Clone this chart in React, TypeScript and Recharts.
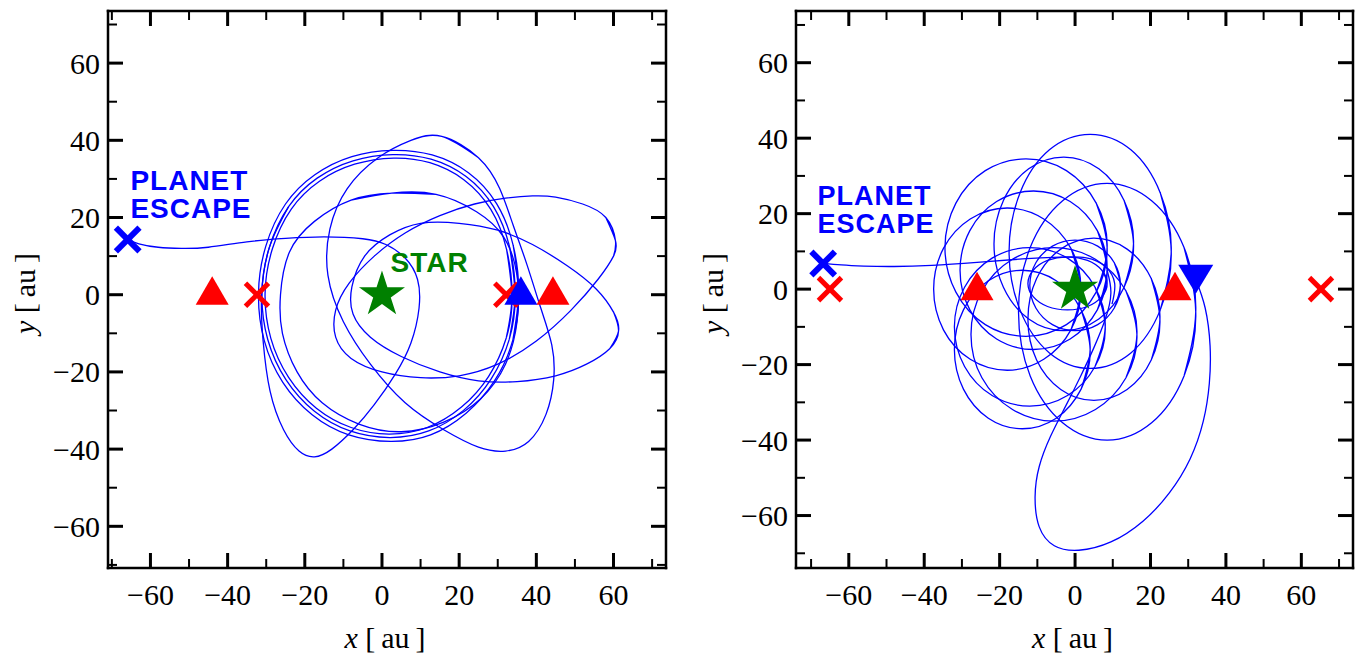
import React from 'react';
import { ComposedChart, Line, Scatter, XAxis, YAxis } from 'recharts';

// axes: both panels share the tick set, each has its own window (au)
const AXIS_TICKS = [-70, -60, -50, -40, -30, -20, -10, 0, 10, 20, 30, 40, 50, 60, 70];
const LEFT_X_DOMAIN = [-71, 73.6];
const LEFT_Y_DOMAIN = [-70.8, 73.5];
const RIGHT_X_DOMAIN = [-74, 73.7];
const RIGHT_Y_DOMAIN = [-73.9, 73.7];

// ---- left panel: planet orbit (x, y in au) ----
const L_RING_1 = [[34.5, -0.2], [33.1, 12.2], [28.9, 22.8], [21.8, 30.6], [12.7, 35.1], [2.8, 36.3], [-7.5, 34.7], [-16.8, 30.2], [-24.2, 22.8], [-29.2, 12.2], [-31.1, 0.2], [-29.6, -11.6], [-24.9, -22], [-17.5, -30.2], [-8.3, -35.3], [2, -37], [12.1, -35.3], [21.2, -29.9], [28.3, -21.8], [33, -11.5]];
const L_RING_2 = [[35.4, 0.4], [34, 12.8], [29.7, 23.6], [22.4, 31.6], [13, 36.2], [2.8, 37.4], [-7.8, 35.8], [-17.4, 31.1], [-25, 23.5], [-30.1, 12.6], [-32, 0.4], [-30.5, -11.9], [-25.7, -22.7], [-18.1, -31.1], [-8.6, -36.3], [2.3, -38], [12.6, -36.3], [21.8, -30.7], [29.1, -22.4], [33.9, -11.8]];
const L_RING_3 = [[33.7, -0.6], [32.3, 11.7], [28.2, 22.1], [21.2, 29.8], [12.4, 34.2], [3, 35.4], [-7.1, 33.8], [-16.2, 29.4], [-23.5, 22.2], [-28.4, 11.9], [-30.3, 0.3], [-28.8, -11.3], [-24.2, -21.4], [-17, -29.4], [-8, -34.4], [1.8, -36.1], [11.7, -34.4], [20.6, -29.1], [27.6, -21.2], [32.2, -11.2]];
const L_TALL = [[15.5, 41], [25, 35.5], [30.5, 27.5], [34, 18], [37.5, 8], [41, -3], [44, -13], [44.5, -22], [42.5, -31], [38, -38], [32, -40.5], [25, -39.5], [16, -35], [6, -28], [-3, -18], [-10, -7], [-14, 5], [-13.5, 17], [-9, 27.5], [-1, 35.5], [7.5, 40]];
const L_INNER = [[2.5, 26.3], [14, 26], [24.5, 21.5], [31.5, 15], [35, 5], [35, -7], [32, -18], [25.5, -27], [16, -33], [5, -35.5], [-6, -33.5], [-15.5, -28], [-22, -20], [-25.8, -10], [-26.3, 0], [-24, 11], [-17.5, 19], [-8, 24.5]];
const L_WIDE_UP = [[60.5, 14], [58, 20], [52, 23.5], [45, 25.3], [39, 25.6], [32, 25], [24, 23.5], [15, 20.5], [6, 16], [-2, 10], [-8.5, 3], [-12, -4], [-12, -11], [-8, -16.5], [0, -20], [10, -21.5], [20, -21], [30, -18], [40, -12], [49, -4], [56, 4], [60, 10]];
const L_WIDE_DOWN = [[61.3, -9.4], [60, -4.5], [55.5, 1.5], [48, 7.5], [39, 13], [30, 16.7], [20, 18.5], [10, 18.5], [2, 15.5], [-4.5, 10], [-7.8, 2], [-7.5, -5], [-3, -11], [5, -16], [15, -20], [25, -22.3], [35, -22.5], [45, -21], [53, -18], [59, -14]];
const L_ESCAPE = [[-24.2, 22.8], [-29.2, 12.2], [-31.2, 0], [-30.8, -12], [-29, -25], [-25.5, -35], [-21.5, -40.5], [-17.5, -42], [-13, -40], [-7.5, -35], [-2, -28.5], [3.5, -20.5], [7.5, -12.5], [9.6, -3.5], [9.2, 4], [6, 9.5], [1, 13], [-5, 14.5], [-15, 15], [-25, 14.6], [-35, 13.7], [-45, 12.3], [-52, 12], [-58, 12.3], [-63, 13.2], [-65.9, 14.3]];

const L_STAR = [[0, 0]];
const L_RED_TRI = [[-44, 1.1], [44.3, 1.1]];
const L_RED_X = [[-32.4, 0], [32.2, 0]];
const L_START = [[36, 1.1]];
const L_END = [[-65.9, 14.3]];
const L_NOTE_ESCAPE = [[-65.2, 27.2]];
const L_NOTE_STAR = [[2.2, 6]];

// ---- right panel ----
const R_RING_1 = [[25.5, 10], [22.6, 25.5], [14.8, 36.9], [4, 41], [-6.8, 36.9], [-14.6, 25.5], [-17.5, 10], [-14.6, -5.5], [-6.8, -16.9], [4, -21], [14.8, -16.9], [22.6, -5.5]];
const R_RING_2 = [[8.5, 11], [5.6, 22.8], [-2.3, 31.4], [-13, 34.5], [-23.8, 31.4], [-31.6, 22.8], [-34.5, 11], [-31.6, -0.8], [-23.8, -9.4], [-13, -12.5], [-2.3, -9.4], [5.6, -0.8]];
const R_RING_3 = [[15.5, 12], [13, 23.5], [6.3, 31.9], [-3, 35], [-12.3, 31.9], [-19, 23.5], [-21.5, 12], [-19, 0.5], [-12.3, -7.9], [-3, -11], [6.3, -7.9], [13, 0.5]];
const R_RING_4 = [[32, -6], [28.9, 11], [20.3, 23.4], [8.5, 28], [-3.3, 23.4], [-11.9, 11], [-15, -6], [-11.9, -23], [-3.3, -35.4], [8.5, -40], [20.3, -35.4], [28.9, -23]];
const R_RING_5 = [[1.5, 0], [-1.1, 10.8], [-8.3, 18.6], [-18, 21.5], [-27.8, 18.6], [-34.9, 10.8], [-37.5, 0], [-34.9, -10.8], [-27.8, -18.6], [-18, -21.5], [-8.3, -18.6], [-1.1, -10.8]];
const R_RING_6 = [[4, -16], [1.6, -5.5], [-5, 2.2], [-14, 5], [-23, 2.2], [-29.6, -5.5], [-32, -16], [-29.6, -26.5], [-23, -34.2], [-14, -37], [-5, -34.2], [1.6, -26.5]];
const R_RING_7 = [[16.4, -12], [13.5, -0.5], [5.4, 7.9], [-5.6, 11], [-16.6, 7.9], [-24.7, -0.5], [-27.6, -12], [-24.7, -23.5], [-16.6, -31.9], [-5.6, -35], [5.4, -31.9], [13.5, -23.5]];
const R_RING_8 = [[22.5, -8], [20.2, 2.8], [13.8, 10.6], [5, 13.5], [-3.8, 10.6], [-10.2, 2.8], [-12.5, -8], [-10.2, -18.8], [-3.8, -26.6], [5, -29.5], [13.8, -26.6], [20.2, -18.8]];
const R_RING_9 = [[8.5, 1.5], [7.1, 5], [3.3, 7.6], [-2, 8.5], [-7.3, 7.6], [-11.1, 5], [-12.5, 1.5], [-11.1, -2], [-7.3, -4.6], [-2, -5.5], [3.3, -4.6], [7.1, -2]];
const R_RING_10 = [[12, 1], [10.4, 7], [6, 11.4], [0, 13], [-6, 11.4], [-10.4, 7], [-12, 1], [-10.4, -5], [-6, -9.4], [0, -11], [6, -9.4], [10.4, -5]];
const R_RING_11 = [[8.5, 5], [5.9, 15.5], [-1.3, 23.2], [-11, 26], [-20.8, 23.2], [-27.9, 15.5], [-30.5, 5], [-27.9, -5.5], [-20.8, -13.2], [-11, -16], [-1.3, -13.2], [5.9, -5.5]];
const R_RING_12 = [[8, -10], [5.3, 0.5], [-2, 8.2], [-12, 11], [-22, 8.2], [-29.3, 0.5], [-32, -10], [-29.3, -20.5], [-22, -28.2], [-12, -31], [-2, -28.2], [5.3, -20.5]];
const R_PLUNGE = [[32, 2.6], [34.5, -5], [35.8, -15], [35.6, -25], [34, -35], [30.5, -45], [25, -54], [18, -61.5], [9.5, -67], [1, -69.2], [-5.5, -68], [-9.5, -63], [-10.6, -55], [-9.5, -47], [-6.5, -39], [-2.5, -31], [1.5, -23], [5, -15.5], [8, -8], [9.5, -1], [8.5, 5]];
const R_ESCAPE = [[9.8, -4], [10.5, 1.5], [8, 6], [3, 8.3], [-4, 8.5], [-14, 8], [-26, 7.1], [-38, 6.3], [-48, 6], [-56, 6.1], [-62, 6.4], [-66.8, 6.9]];

const R_STAR = [[0, 0]];
const R_RED_TRI = [[-26, 0.8], [26.5, 0.8]];
const R_RED_X = [[-65, 0], [65.2, 0]];
const R_START = [[32, 2.6]];
const R_END = [[-66.8, 6.8]];
const R_NOTE_ESCAPE = [[-68.3, 22.3]];

const BLUE = '#0000ff';
const RED = '#ff0000';
const GREEN = '#008000';
const SERIF = '"Liberation Serif", "Times New Roman", Times, serif';
const SANS = '"Liberation Sans", Arial, Helvetica, sans-serif';
const FRAME = { stroke: '#000', strokeWidth: 2.5, strokeLinecap: 'square' as const };

const toPts = (a: number[][]) => a.map(([x, y]) => ({ x, y }));
// repeat the seam points so the spline closes without a corner
const closed = (a: number[][]) => toPts([a[a.length - 1], ...a, a[0], a[1]]);

const fmt = (v: number) => (v < 0 ? '\u2212' + Math.abs(v) : String(v));
const isMajor = (v: number) => v % 20 === 0;
const tickLen = (v: number) => (isMajor(v) ? 15 : 9);
const tickW = (v: number) => (isMajor(v) ? 3 : 2);

const BottomTick = (p: any) => {
  const v = p.payload.value;
  return (
    <g>
      <line x1={p.x} x2={p.x} y1={p.y} y2={p.y - tickLen(v)} stroke="#000" strokeWidth={tickW(v)} />
      {isMajor(v) && (
        <text x={p.x} y={p.y + 37} textAnchor="middle" fontFamily={SERIF} fontSize={30} fill="#000">
          {fmt(v)}
        </text>
      )}
    </g>
  );
};

const TopTick = (p: any) => {
  const v = p.payload.value;
  return <line x1={p.x} x2={p.x} y1={p.y} y2={p.y + tickLen(v)} stroke="#000" strokeWidth={tickW(v)} />;
};

const LeftTick = (p: any) => {
  const v = p.payload.value;
  return (
    <g>
      <line x1={p.x} x2={p.x + tickLen(v)} y1={p.y} y2={p.y} stroke="#000" strokeWidth={tickW(v)} />
      {isMajor(v) && (
        <text x={p.x - 8} y={p.y + 10.5} textAnchor="end" fontFamily={SERIF} fontSize={30} fill="#000">
          {fmt(v)}
        </text>
      )}
    </g>
  );
};

const RightTick = (p: any) => {
  const v = p.payload.value;
  return <line x1={p.x} x2={p.x - tickLen(v)} y1={p.y} y2={p.y} stroke="#000" strokeWidth={tickW(v)} />;
};

const XTitle = (props: any) => {
  const vb = props.viewBox || {};
  return (
    <text x={vb.x + vb.width / 2 - 2} y={vb.y + 80} textAnchor="middle" fontFamily={SERIF} fontSize={30} fill="#000">
      <tspan fontStyle="italic">x</tspan>
      {' [\u2009au\u2009]'}
    </text>
  );
};

const YTitle = (props: any) => {
  const vb = props.viewBox || {};
  const cx = vb.x + vb.width - 73;
  const cy = vb.y + vb.height / 2 + 4;
  return (
    <text x={cx} y={cy} transform={`rotate(-90, ${cx}, ${cy})`} textAnchor="middle" fontFamily={SERIF} fontSize={30} fill="#000">
      <tspan fontStyle="italic">y</tspan>
      {' [\u2009au\u2009]'}
    </text>
  );
};

const triUp = (fill: string) => (p: any) => (
  <polygon points={`${p.cx},${p.cy - 14.3} ${p.cx - 16.5},${p.cy + 14.2} ${p.cx + 16.5},${p.cy + 14.2}`} fill={fill} />
);

const triDown = (fill: string) => (p: any) => (
  <polygon points={`${p.cx - 17.5},${p.cy - 14.5} ${p.cx + 17.5},${p.cy - 14.5} ${p.cx},${p.cy + 14.5}`} fill={fill} />
);

const cross = (color: string, arm: number, width: number) => (p: any) => (
  <g stroke={color} strokeWidth={width}>
    <line x1={p.cx - arm} y1={p.cy - arm} x2={p.cx + arm} y2={p.cy + arm} />
    <line x1={p.cx - arm} y1={p.cy + arm} x2={p.cx + arm} y2={p.cy - arm} />
  </g>
);

const StarShape = (p: any) => {
  const outer = 24.2;
  const inner = outer * 0.382;
  const corners: string[] = [];
  for (let i = 0; i < 10; i++) {
    const a = -Math.PI / 2 + (i * Math.PI) / 5;
    const r = i % 2 === 0 ? outer : inner;
    corners.push(`${p.cx + r * Math.cos(a)},${p.cy + r * Math.sin(a)}`);
  }
  return <polygon points={corners.join(' ')} fill={GREEN} />;
};

// one <text> per line so the two words of a note stay separate
const note = (lines: string[], color: string, size: number, lineGap: number) => (p: any) => (
  <g fill={color} fontFamily={SANS} fontWeight="bold" fontSize={size} letterSpacing={1}>
    {lines.map((t, i) => (
      <text key={t} x={p.cx} y={p.cy + i * lineGap}>
        {t}
      </text>
    ))}
  </g>
);

interface PanelProps {
  width: number;
  margin: { top: number; right: number; bottom: number; left: number };
  xDomain: number[];
  yDomain: number[];
  rings: number[][][];
  paths: number[][][];
  marks: { data: number[][]; shape: (p: any) => React.ReactElement }[];
}

function Panel({ width, margin, xDomain, yDomain, rings, paths, marks }: PanelProps) {
  return (
    <ComposedChart width={width} height={658} margin={margin}>
      <XAxis xAxisId="b" type="number" dataKey="x" orientation="bottom" domain={xDomain} allowDataOverflow
        ticks={AXIS_TICKS} interval={0} height={1} tickSize={0} tickMargin={0} tickLine={false}
        axisLine={FRAME} tick={BottomTick} label={XTitle} />
      <XAxis xAxisId="t" type="number" dataKey="x" orientation="top" domain={xDomain} allowDataOverflow
        ticks={AXIS_TICKS} interval={0} height={1} tickSize={0} tickMargin={0} tickLine={false}
        axisLine={FRAME} tick={TopTick} />
      <YAxis yAxisId="l" type="number" dataKey="y" orientation="left" domain={yDomain} allowDataOverflow
        ticks={AXIS_TICKS} interval={0} width={1} tickSize={0} tickMargin={0} tickLine={false}
        axisLine={FRAME} tick={LeftTick} label={YTitle} />
      <YAxis yAxisId="r" type="number" dataKey="y" orientation="right" domain={yDomain} allowDataOverflow
        ticks={AXIS_TICKS} interval={0} width={1} tickSize={0} tickMargin={0} tickLine={false}
        axisLine={FRAME} tick={RightTick} />
      {rings.map((r, i) => (
        <Line key={`ring${i}`} xAxisId="b" yAxisId="l" data={closed(r)} dataKey="y" type="natural"
          stroke={BLUE} strokeWidth={1.3} dot={false} activeDot={false} isAnimationActive={false} />
      ))}
      {paths.map((r, i) => (
        <Line key={`path${i}`} xAxisId="b" yAxisId="l" data={toPts(r)} dataKey="y" type="natural"
          stroke={BLUE} strokeWidth={1.3} dot={false} activeDot={false} isAnimationActive={false} />
      ))}
      {marks.map((m, i) => (
        <Scatter key={`mark${i}`} xAxisId="t" yAxisId="r" data={toPts(m.data)} dataKey="y"
          shape={m.shape} isAnimationActive={false} />
      ))}
    </ComposedChart>
  );
}

export default function App() {
  return (
    <div style={{ position: 'absolute', left: 0, top: 0, width: 1362, height: 658, background: '#fff' }}>
      <div style={{ position: 'absolute', left: 0, top: 0 }}>
        <Panel
          width={680}
          margin={{ top: 10, right: 13, bottom: 89, left: 107 }}
          xDomain={LEFT_X_DOMAIN}
          yDomain={LEFT_Y_DOMAIN}
          rings={[L_RING_1, L_RING_2, L_RING_3, L_TALL, L_INNER, L_WIDE_UP, L_WIDE_DOWN]}
          paths={[L_ESCAPE]}
          marks={[
            { data: L_RED_TRI, shape: triUp(RED) },
            { data: L_RED_X, shape: cross(RED, 11.5, 5) },
            { data: L_START, shape: triUp(BLUE) },
            { data: L_END, shape: cross(BLUE, 11.8, 6) },
            { data: L_STAR, shape: StarShape },
            { data: L_NOTE_ESCAPE, shape: note(['PLANET', 'ESCAPE'], BLUE, 28, 28) },
            { data: L_NOTE_STAR, shape: note(['STAR'], GREEN, 28, 0) },
          ]}
        />
      </div>
      <div style={{ position: 'absolute', left: 680, top: 0 }}>
        <Panel
          width={682}
          margin={{ top: 10, right: 8, bottom: 89, left: 115 }}
          xDomain={RIGHT_X_DOMAIN}
          yDomain={RIGHT_Y_DOMAIN}
          rings={[R_RING_1, R_RING_2, R_RING_3, R_RING_4, R_RING_5, R_RING_6, R_RING_7, R_RING_8, R_RING_9, R_RING_10, R_RING_11, R_RING_12]}
          paths={[R_PLUNGE, R_ESCAPE]}
          marks={[
            { data: R_RED_TRI, shape: triUp(RED) },
            { data: R_RED_X, shape: cross(RED, 11.5, 5) },
            { data: R_START, shape: triDown(BLUE) },
            { data: R_END, shape: cross(BLUE, 11.8, 6) },
            { data: R_STAR, shape: StarShape },
            { data: R_NOTE_ESCAPE, shape: note(['PLANET', 'ESCAPE'], BLUE, 27, 28.5) },
          ]}
        />
      </div>
    </div>
  );
}
